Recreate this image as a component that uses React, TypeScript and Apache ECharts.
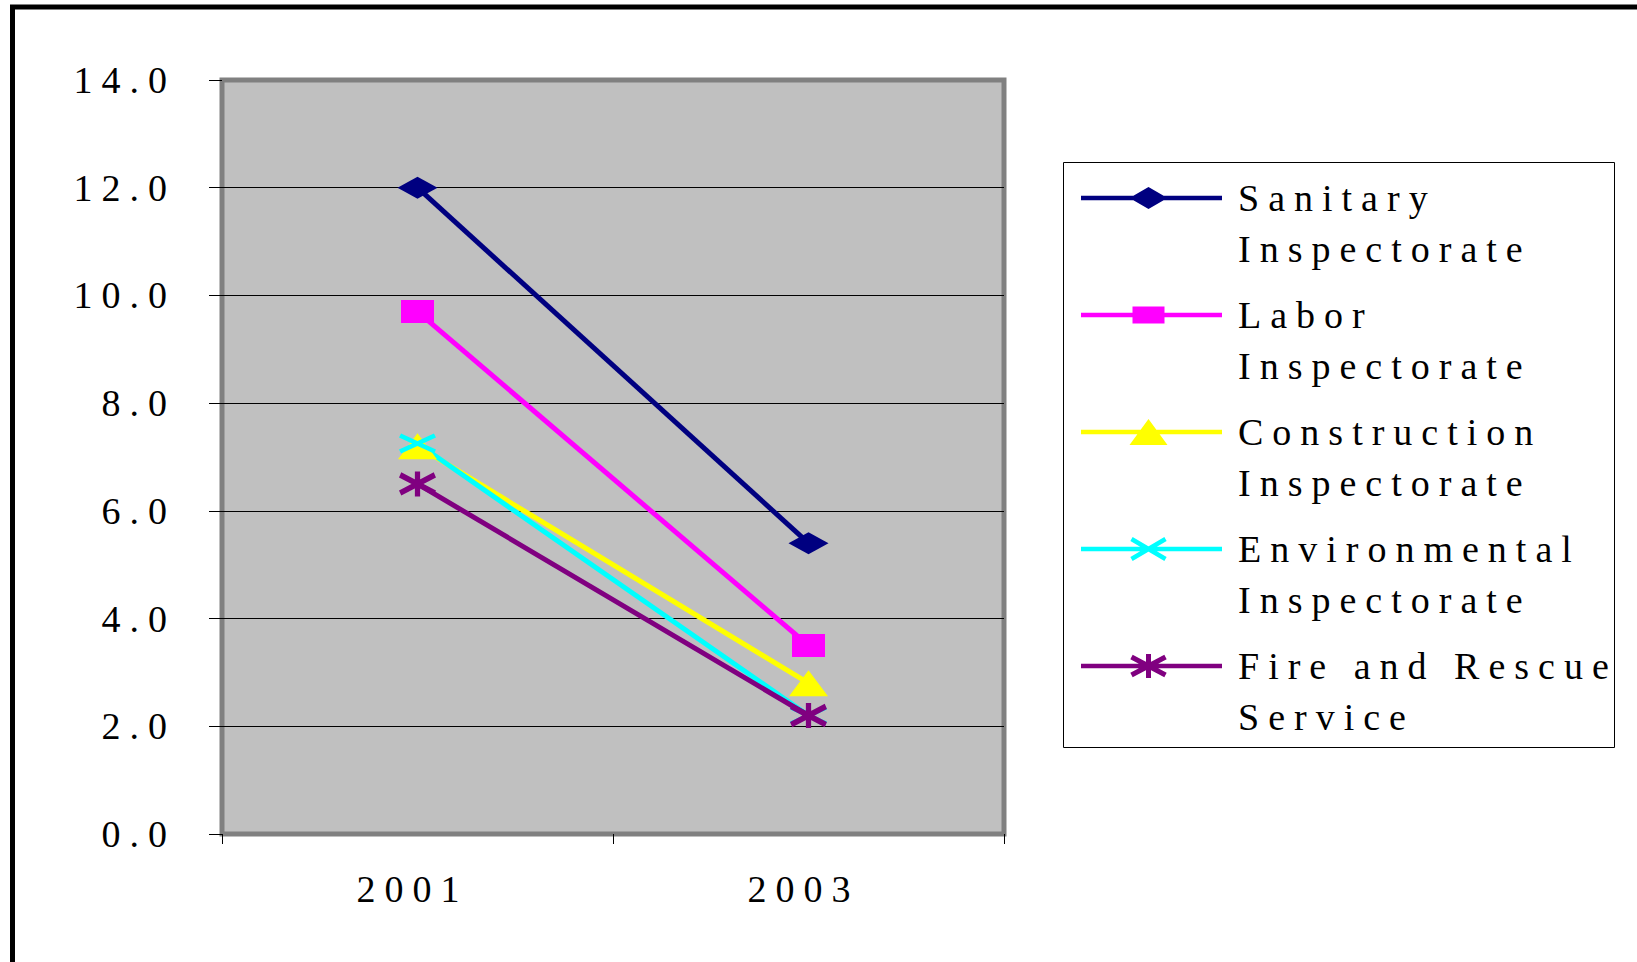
import React, { useEffect, useRef } from 'react';
import * as echarts from 'echarts';

// ---------- data ----------
const years = ['2001', '2003'];
const seriesNames = [
  'Sanitary Inspectorate',
  'Labor Inspectorate',
  'Construction Inspectorate',
  'Environmental Inspectorate',
  'Fire and Rescue Service',
];
const sanitaryValues = [12.0, 5.4];
const laborValues = [9.7, 3.5];
const constructionValues = [7.2, 2.8];
const environmentalValues = [7.25, 2.2];
const fireRescueValues = [6.5, 2.2];
const yMin = 0;
const yMax = 14;
const yStep = 2;

// ---------- styles ----------
const COLORS = ['#000080', '#FF00FF', '#FFFF00', '#00FFFF', '#800080'];
const FONT = "'Liberation Serif', 'Times New Roman', serif";

type P = [number, number];
const poly = (pts: P[]) =>
  'M' + pts.map((p) => `${p[0].toFixed(2)} ${p[1].toFixed(2)}`).join(' L') + ' Z';
const bar = (x1: number, y1: number, x2: number, y2: number, t: number) => {
  const dx = x2 - x1;
  const dy = y2 - y1;
  const len = Math.hypot(dx, dy);
  const ox = (-dy / len) * (t / 2);
  const oy = (dx / len) * (t / 2);
  return poly([
    [x1 + ox, y1 + oy],
    [x2 + ox, y2 + oy],
    [x2 - ox, y2 - oy],
    [x1 - ox, y1 - oy],
  ]);
};
const xMark = (cx: number, cy: number, w: number, h: number, t: number) =>
  bar(cx - w / 2, cy - h / 2, cx + w / 2, cy + h / 2, t) +
  ' ' +
  bar(cx - w / 2, cy + h / 2, cx + w / 2, cy - h / 2, t);
const asterisk = (cx: number, cy: number, w: number, h: number, hv: number, t: number) =>
  xMark(cx, cy, w, h, t) + ' ' + bar(cx, cy - hv / 2, cx, cy + hv / 2, t);
const diamond = (cx: number, cy: number, w: number, h: number) =>
  poly([
    [cx - w / 2, cy],
    [cx, cy + h / 2],
    [cx + w / 2, cy],
    [cx, cy - h / 2],
  ]);
const rectP = (cx: number, cy: number, w: number, h: number) =>
  poly([
    [cx - w / 2, cy + h / 2],
    [cx + w / 2, cy + h / 2],
    [cx + w / 2, cy - h / 2],
    [cx - w / 2, cy - h / 2],
  ]);
const tri = (cx: number, cy: number, w: number, h: number) =>
  poly([
    [cx - w / 2, cy + h / 2],
    [cx + w / 2, cy + h / 2],
    [cx, cy - h / 2],
  ]);

const LEG_W = 141;
const LEG_H = 28;
const legLine = bar(0, LEG_H / 2, LEG_W, LEG_H / 2, 4.5);
const lcx = LEG_W / 2 - 3;
const lcy = LEG_H / 2;
const legendIcons = [
  legLine + ' ' + diamond(lcx, lcy, 38, 22),
  legLine + ' ' + rectP(lcx, lcy, 32, 17),
  legLine + ' ' + tri(lcx, lcy, 38, 26),
  legLine + ' ' + xMark(lcx, lcy, 34, 20, 4.5),
  legLine + ' ' + asterisk(lcx, lcy, 34, 18, 24, 5),
];

const chartSymbols: { symbol: string; size: number[] }[] = [
  { symbol: 'diamond', size: [40, 22] },
  { symbol: 'rect', size: [33, 23] },
  { symbol: 'triangle', size: [39, 26] },
  { symbol: 'path://' + xMark(0, 0, 33, 16, 4.5), size: [37, 20] },
  { symbol: 'path://' + asterisk(0, 0, 33, 16, 22, 5), size: [37, 25] },
];

const allValues = [sanitaryValues, laborValues, constructionValues, environmentalValues, fireRescueValues];

export default function App() {
  const ref = useRef<HTMLDivElement>(null);

  useEffect(() => {
    if (!ref.current) return;
    const chart = echarts.init(ref.current, null, { renderer: 'svg' });
    const labelStyle = { fontSize: 38, fontFamily: FONT, color: '#000' };

    chart.setOption({
      animation: false,
      backgroundColor: '#ffffff',
      textStyle: { fontFamily: FONT },
      grid: {
        left: 222,
        top: 80,
        width: 782,
        height: 754,
        show: true,
        backgroundColor: '#C0C0C0',
        borderColor: '#808080',
        borderWidth: 5,
      },
      xAxis: {
        type: 'category',
        data: years,
        boundaryGap: true,
        axisLine: { show: true, lineStyle: { color: '#808080', width: 1 } },
        axisTick: { show: true, length: 10, lineStyle: { color: '#000', width: 1 } },
        axisLabel: { ...labelStyle, margin: 36, padding: [0, 10, 0, 0] },
        splitLine: { show: false },
      },
      yAxis: {
        type: 'value',
        min: yMin,
        max: yMax,
        interval: yStep,
        axisLine: { show: false },
        axisTick: { show: true, length: 13, lineStyle: { color: '#000', width: 1 } },
        axisLabel: {
          ...labelStyle,
          margin: 46,
          formatter: (v: number) => v.toFixed(1),
        },
        splitLine: {
          show: true,
          showMinLine: false,
          showMaxLine: false,
          lineStyle: { color: '#000', width: 1 },
        },
      },
      legend: {
        orient: 'vertical',
        left: 1081,
        top: 121.5,
        padding: 0,
        itemWidth: LEG_W,
        itemHeight: LEG_H,
        itemGap: -36,
        symbolKeepAspect: true,
        selectedMode: false,
        data: seriesNames.map((n, i) => ({ name: n, icon: 'path://' + legendIcons[i] })),
        // blank first line keeps the icon level with the first text line
        formatter: (n: string) => '\n' + n.replace(/ (\S+)$/, '\n$1'),
        itemStyle: { borderWidth: 0 },
        textStyle: {
          ...labelStyle,
          lineHeight: 51,
          padding: [0, 0, 0, 11],
        },
      },
      graphic: [
        {
          type: 'rect',
          silent: true,
          z: 100,
          shape: { x: 12.5, y: 7, width: 1700, height: 1000 },
          style: { fill: 'none', stroke: '#000', lineWidth: 5 },
        },
        {
          type: 'rect',
          silent: true,
          z: 100,
          shape: { x: 1063.5, y: 162.5, width: 551, height: 585 },
          style: { fill: 'none', stroke: '#000', lineWidth: 1 },
        },
      ],
      series: seriesNames.map((name, i) => ({
        type: 'line',
        name,
        data: allValues[i],
        symbol: chartSymbols[i].symbol,
        symbolSize: chartSymbols[i].size,
        showSymbol: true,
        clip: false,
        lineStyle: { color: COLORS[i], width: 5 },
        itemStyle: { color: COLORS[i], borderWidth: 0 },
        emphasis: { disabled: true },
      })),
    });

    return () => chart.dispose();
  }, []);

  return (
    <div
      ref={ref}
      style={{
        position: 'fixed',
        left: 0,
        top: 0,
        width: 1637,
        height: 962,
        letterSpacing: '9px',
        background: '#fff',
      }}
    />
  );
}
